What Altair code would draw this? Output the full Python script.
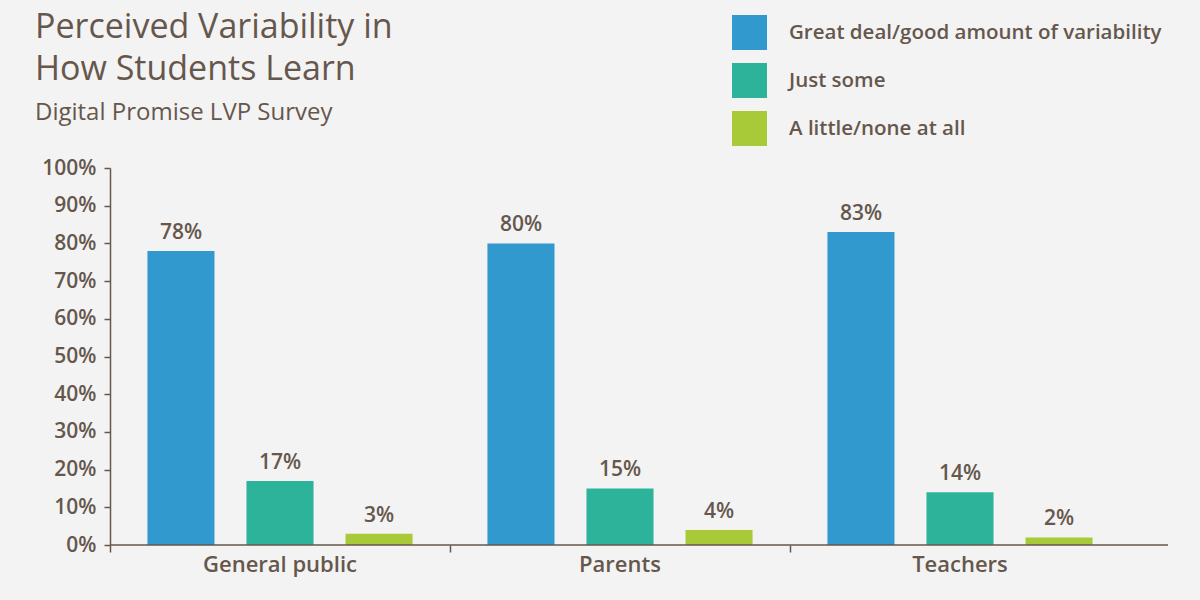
import altair as alt
import pandas as pd

# Survey groups and response categories
groups = ["General public", "Parents", "Teachers"]
responses = ["Great deal/good amount of variability", "Just some", "A little/none at all"]

# Percent of respondents in each group choosing each response
great_deal = [78, 80, 83]
just_some = [17, 15, 14]
little_none = [3, 4, 2]

colors = ["#3299CE", "#2EB39B", "#A9CA38"]
ink = "#66574D"
bg = "#F3F3F3"
font = "Open Sans"

rows = []
for i, g in enumerate(groups):
    for r, vals in zip(responses, [great_deal, just_some, little_none]):
        rows.append({"group": g, "response": r, "pct": vals[i], "label": f"{vals[i]}%"})
df = pd.DataFrame(rows)

W, H = 1058, 377

x_enc = alt.X(
    "group:N",
    sort=groups,
    scale=alt.Scale(range=[0, 1020], paddingInner=0, paddingOuter=0),
    axis=alt.Axis(
        title=None, domain=False, labelAngle=0, ticks=True, tickSize=7,
        tickColor=ink, tickWidth=1.5, bandPosition=0,
        labelFont=font, labelFontSize=22, labelFontWeight=600,
        labelColor=ink, labelPadding=2,
    ),
)
xoff_enc = alt.XOffset(
    "response:N", sort=responses,
    scale=alt.Scale(paddingInner=0.323, paddingOuter=0.378),
)
y_enc = alt.Y(
    "pct:Q",
    scale=alt.Scale(domain=[0, 100]),
    axis=alt.Axis(
        title=None, values=list(range(0, 101, 10)), grid=False,
        labelOverlap=False, labelExpr="datum.value + '%'",
        tickSize=6, tickColor=ink, tickWidth=1.5,
        domainColor=ink, domainWidth=1.5,
        labelFont=font, labelFontSize=21, labelFontWeight=600,
        labelColor=ink, labelPadding=8,
    ),
)

base = alt.Chart(df)

bars = base.mark_bar().encode(
    x=x_enc,
    xOffset=xoff_enc,
    y=y_enc,
    color=alt.Color(
        "response:N", sort=responses,
        scale=alt.Scale(domain=responses, range=colors),
        legend=alt.Legend(
            title=None, orient="none", legendX=622, legendY=-153,
            symbolType="square", symbolSize=1225, symbolStrokeWidth=0,
            symbolOpacity=1, rowPadding=13, labelOffset=22, padding=0,
            labelFont=font, labelFontSize=20.5, labelFontWeight=600,
            labelColor=ink, labelLimit=500,
        ),
    ),
)

labels = base.mark_text(
    baseline="bottom", dy=-8, font=font, fontSize=21, fontWeight=600, color=ink
).encode(
    x=x_enc,
    xOffset=xoff_enc,
    y=y_enc,
    text="label:N",
)

baseline = alt.Chart(pd.DataFrame({"v": [0]})).mark_rule(
    color=ink, strokeWidth=1.5
).encode(x=alt.value(0), x2=alt.value(W), y=alt.value(H))

chart = (
    alt.layer(bars, labels, baseline)
    .properties(
        width=W,
        height=H,
        background=bg,
        padding={"left": 110, "top": 168, "right": 32, "bottom": 55},
        autosize=alt.AutoSizeParams(type="none"),
        title=alt.TitleParams(
            text=["Perceived Variability in", "How Students Learn"],
            subtitle="Digital Promise LVP Survey",
            anchor="start",
            frame="group",
            dx=-75,
            font=font,
            fontSize=34,
            fontWeight="normal",
            lineHeight=42,
            color=ink,
            subtitleFont=font,
            subtitleFontSize=24,
            subtitleColor=ink,
            subtitlePadding=14,
            offset=-110,
        ),
    )
    .configure_view(stroke=None)
)

chart.save("out.html", embed_options={"renderer": "svg", "actions": False})
